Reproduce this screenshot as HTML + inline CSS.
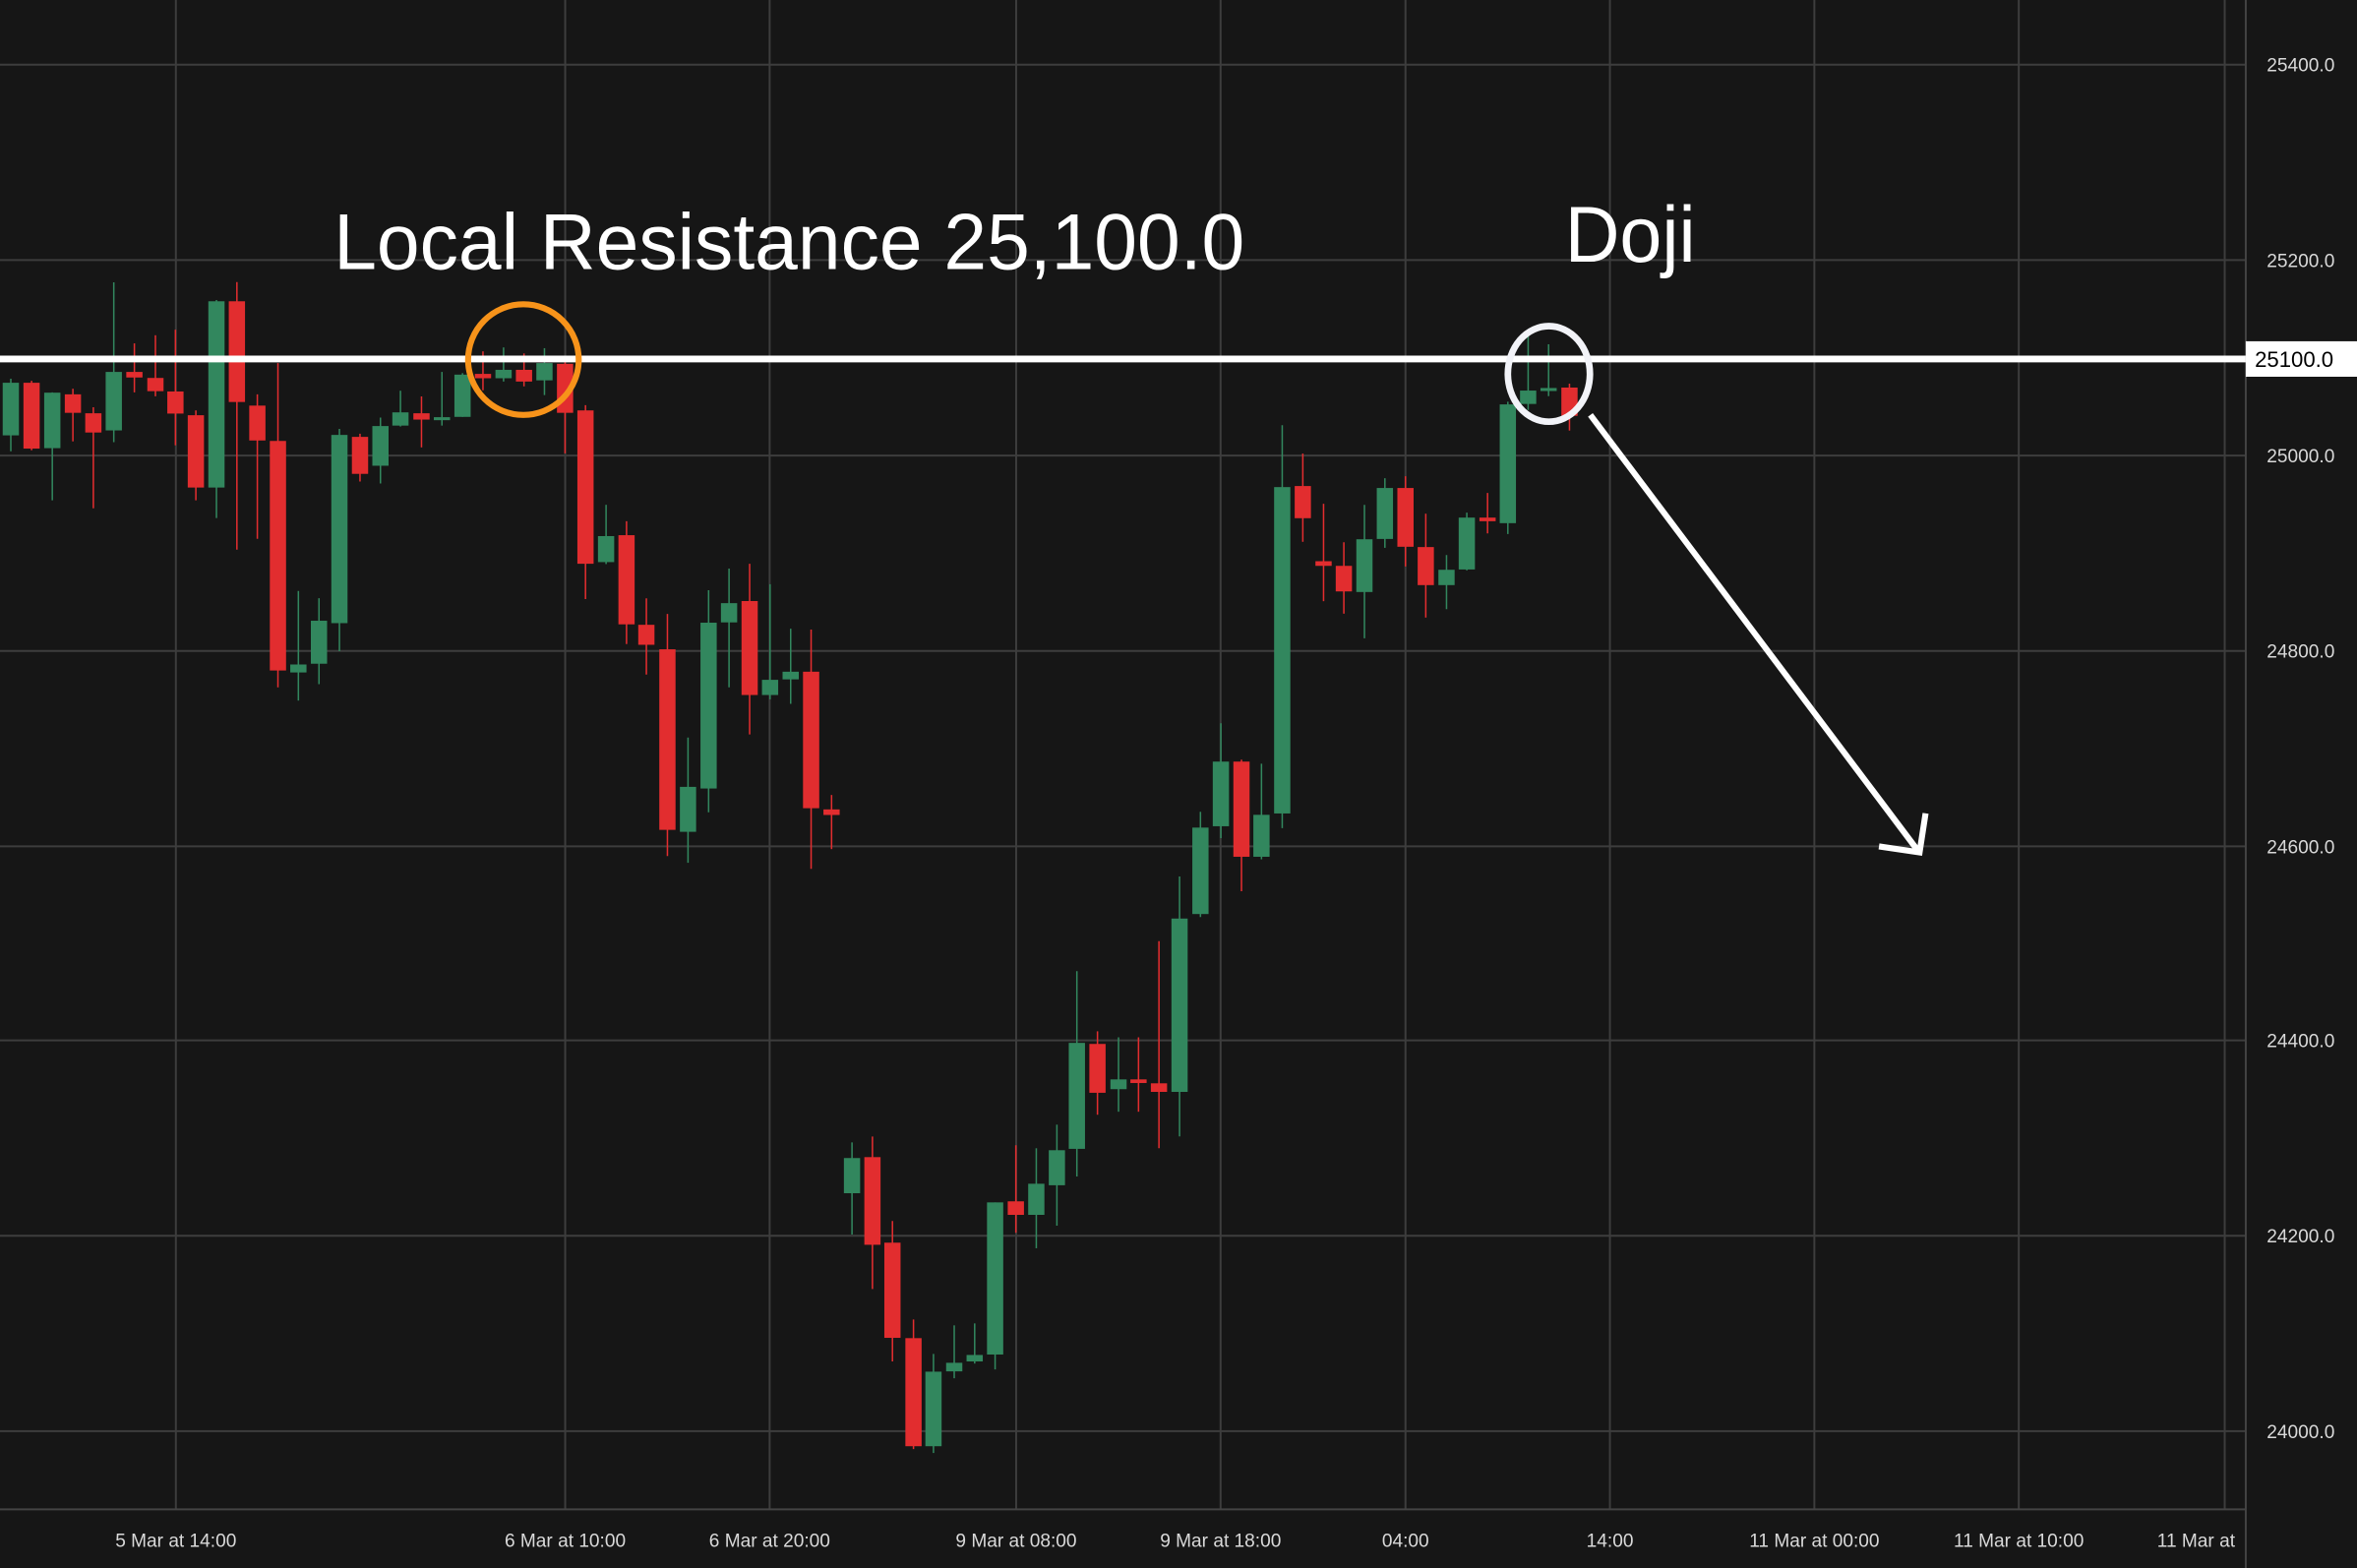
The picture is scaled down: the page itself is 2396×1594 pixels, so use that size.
<!DOCTYPE html>
<html><head><meta charset="utf-8"><style>
html,body{margin:0;padding:0;background:#161616;overflow:hidden}
svg{display:block}
text{font-family:"Liberation Sans",sans-serif}
</style></head><body>
<svg width="2396" height="1594" viewBox="0 0 1568 1043" preserveAspectRatio="none" xmlns="http://www.w3.org/2000/svg">
<rect width="1568" height="1043" fill="#161616"/>
<g stroke="#3d3d3d" stroke-width="1.3">
<line x1="0" y1="43" x2="1494" y2="43"/><line x1="0" y1="173" x2="1494" y2="173"/><line x1="0" y1="303" x2="1494" y2="303"/><line x1="0" y1="433" x2="1494" y2="433"/><line x1="0" y1="563" x2="1494" y2="563"/><line x1="0" y1="692" x2="1494" y2="692"/><line x1="0" y1="822" x2="1494" y2="822"/><line x1="0" y1="952" x2="1494" y2="952"/>
<line x1="117" y1="0" x2="117" y2="1004"/><line x1="376" y1="0" x2="376" y2="1004"/><line x1="512" y1="0" x2="512" y2="1004"/><line x1="676" y1="0" x2="676" y2="1004"/><line x1="812" y1="0" x2="812" y2="1004"/><line x1="935" y1="0" x2="935" y2="1004"/><line x1="1071" y1="0" x2="1071" y2="1004"/><line x1="1207" y1="0" x2="1207" y2="1004"/><line x1="1343" y1="0" x2="1343" y2="1004"/><line x1="1480" y1="0" x2="1480" y2="1004"/>
</g>
<g stroke="#444" stroke-width="1.3"><line x1="0" y1="1004" x2="1494" y2="1004"/><line x1="1494" y1="0" x2="1494" y2="1043"/></g>
<g id="green" fill="#32875e" stroke="#32875e" stroke-width="1">
<line x1="7.2" y1="251.9" x2="7.2" y2="300.2"/><rect x="1.8" y="254.6" width="10.8" height="35" stroke="none"/>
<line x1="34.8" y1="261" x2="34.8" y2="332.8"/><rect x="29.4" y="261.2" width="10.8" height="36.9" stroke="none"/>
<line x1="75.7" y1="187.8" x2="75.7" y2="294.1"/><rect x="70.3" y="247.4" width="10.8" height="38.9" stroke="none"/>
<line x1="144" y1="199.6" x2="144" y2="344.6"/><rect x="138.6" y="200.4" width="10.8" height="123.9" stroke="none"/>
<line x1="198.5" y1="393.1" x2="198.5" y2="466"/><rect x="193.1" y="442" width="10.8" height="5.3" stroke="none"/>
<line x1="212.2" y1="397.9" x2="212.2" y2="455.1"/><rect x="206.8" y="412.9" width="10.8" height="28.6" stroke="none"/>
<line x1="225.8" y1="285.3" x2="225.8" y2="433.2"/><rect x="220.4" y="289.3" width="10.8" height="125.2" stroke="none"/>
<line x1="253.1" y1="277.8" x2="253.1" y2="321.6"/><rect x="247.7" y="283.4" width="10.8" height="26.4" stroke="none"/>
<line x1="266.4" y1="259.9" x2="266.4" y2="283.7"/><rect x="261" y="274.3" width="10.8" height="8.8" stroke="none"/>
<line x1="294" y1="247.4" x2="294" y2="283.1"/><rect x="288.6" y="277.5" width="10.8" height="2" stroke="none"/>
<line x1="307.7" y1="248.2" x2="307.7" y2="277.3"/><rect x="302.3" y="249.2" width="10.8" height="28.1" stroke="none"/>
<line x1="335" y1="231.1" x2="335" y2="253.8"/><rect x="329.6" y="246" width="10.8" height="5.6" stroke="none"/>
<line x1="362.2" y1="231.6" x2="362.2" y2="262.8"/><rect x="356.8" y="241.5" width="10.8" height="11.5" stroke="none"/>
<line x1="403.2" y1="335.8" x2="403.2" y2="375.2"/><rect x="397.8" y="356.6" width="10.8" height="17.3" stroke="none"/>
<line x1="457.7" y1="490.6" x2="457.7" y2="573.9"/><rect x="452.3" y="523.4" width="10.8" height="29.9" stroke="none"/>
<line x1="471.4" y1="392.6" x2="471.4" y2="540.3"/><rect x="466" y="414.2" width="10.8" height="110.3" stroke="none"/>
<line x1="485" y1="378.2" x2="485" y2="457.2"/><rect x="479.6" y="401.2" width="10.8" height="12.8" stroke="none"/>
<line x1="512.3" y1="388.6" x2="512.3" y2="465.2"/><rect x="506.9" y="452.2" width="10.8" height="10.1" stroke="none"/>
<line x1="526" y1="418.2" x2="526" y2="468.2"/><rect x="520.6" y="446.8" width="10.8" height="5.1" stroke="none"/>
<line x1="566.8" y1="759.9" x2="566.8" y2="821.2"/><rect x="561.4" y="770.3" width="10.8" height="23.4" stroke="none"/>
<line x1="621" y1="900.6" x2="621" y2="966.5"/><rect x="615.6" y="912.4" width="10.8" height="49.6" stroke="none"/>
<line x1="634.8" y1="881.6" x2="634.8" y2="916.8"/><rect x="629.4" y="906.5" width="10.8" height="5.7" stroke="none"/>
<line x1="648.4" y1="880.3" x2="648.4" y2="907"/><rect x="643" y="901.3" width="10.8" height="4.3" stroke="none"/>
<line x1="662" y1="799.8" x2="662" y2="910.9"/><rect x="656.6" y="799.8" width="10.8" height="101.2" stroke="none"/>
<line x1="689.4" y1="763.8" x2="689.4" y2="830.3"/><rect x="684" y="787.4" width="10.8" height="20.7" stroke="none"/>
<line x1="703.1" y1="748.1" x2="703.1" y2="815.3"/><rect x="697.7" y="765.1" width="10.8" height="23.3" stroke="none"/>
<line x1="716.4" y1="646" x2="716.4" y2="782.6"/><rect x="711" y="693.7" width="10.8" height="70.5" stroke="none"/>
<line x1="744.1" y1="690" x2="744.1" y2="739.5"/><rect x="738.7" y="718" width="10.8" height="6.5" stroke="none"/>
<line x1="784.7" y1="583" x2="784.7" y2="755.9"/><rect x="779.3" y="611" width="10.8" height="115.3" stroke="none"/>
<line x1="798.6" y1="540" x2="798.6" y2="610"/><rect x="793.2" y="550.5" width="10.8" height="57.5" stroke="none"/>
<line x1="812.2" y1="481.1" x2="812.2" y2="557.5"/><rect x="806.8" y="506.6" width="10.8" height="43" stroke="none"/>
<line x1="839.2" y1="508" x2="839.2" y2="571.6"/><rect x="833.8" y="542" width="10.8" height="27.9" stroke="none"/>
<line x1="853" y1="282.8" x2="853" y2="550.9"/><rect x="847.6" y="324" width="10.8" height="217.1" stroke="none"/>
<line x1="907.7" y1="335.8" x2="907.7" y2="424.6"/><rect x="902.3" y="358.7" width="10.8" height="35.1" stroke="none"/>
<line x1="921.3" y1="318.1" x2="921.3" y2="364.4"/><rect x="915.9" y="324.6" width="10.8" height="33.9" stroke="none"/>
<line x1="962.3" y1="369.2" x2="962.3" y2="405.2"/><rect x="956.9" y="379" width="10.8" height="10.2" stroke="none"/>
<line x1="975.8" y1="341" x2="975.8" y2="379.4"/><rect x="970.4" y="344.3" width="10.8" height="34.5" stroke="none"/>
<line x1="1003.1" y1="267.2" x2="1003.1" y2="355.2"/><rect x="997.7" y="269" width="10.8" height="79" stroke="none"/>
<line x1="1016.6" y1="223.6" x2="1016.6" y2="272.7"/><rect x="1011.2" y="259.8" width="10.8" height="8.9" stroke="none"/>
<line x1="1030.2" y1="229" x2="1030.2" y2="263.5"/><rect x="1024.8" y="258.1" width="10.8" height="2" stroke="none"/>
</g>
<g fill="#e22d2f" stroke="#e22d2f" stroke-width="1">
<line x1="21" y1="253.3" x2="21" y2="299.5"/><rect x="15.6" y="254.6" width="10.8" height="43.8" stroke="none"/>
<line x1="48.5" y1="258.6" x2="48.5" y2="293.6"/><rect x="43.1" y="262.3" width="10.8" height="12.3" stroke="none"/>
<line x1="62.1" y1="270.9" x2="62.1" y2="338.1"/><rect x="56.7" y="274.9" width="10.8" height="12.8" stroke="none"/>
<line x1="89.4" y1="228.4" x2="89.4" y2="261"/><rect x="84" y="247.4" width="10.8" height="3.7" stroke="none"/>
<line x1="103.4" y1="223" x2="103.4" y2="263.6"/><rect x="98" y="251.4" width="10.8" height="8.8" stroke="none"/>
<line x1="116.7" y1="219.3" x2="116.7" y2="296.2"/><rect x="111.3" y="260.4" width="10.8" height="14.7" stroke="none"/>
<line x1="130.3" y1="273" x2="130.3" y2="332.8"/><rect x="124.9" y="276.2" width="10.8" height="48.1" stroke="none"/>
<line x1="157.6" y1="187.6" x2="157.6" y2="365.6"/><rect x="152.2" y="200.4" width="10.8" height="67" stroke="none"/>
<line x1="171.2" y1="262.3" x2="171.2" y2="358.4"/><rect x="165.8" y="269.8" width="10.8" height="23.2" stroke="none"/>
<line x1="184.9" y1="241.5" x2="184.9" y2="457.2"/><rect x="179.5" y="293.3" width="10.8" height="152.7" stroke="none"/>
<line x1="239.5" y1="288.5" x2="239.5" y2="320.3"/><rect x="234.1" y="290.6" width="10.8" height="24.6" stroke="none"/>
<line x1="280.4" y1="263.7" x2="280.4" y2="297.6"/><rect x="275" y="274.9" width="10.8" height="4.2" stroke="none"/>
<line x1="321.3" y1="233.7" x2="321.3" y2="259.6"/><rect x="315.9" y="248.7" width="10.8" height="2.9" stroke="none"/>
<line x1="348.6" y1="235.1" x2="348.6" y2="257"/><rect x="343.2" y="246" width="10.8" height="7.8" stroke="none"/>
<line x1="375.9" y1="240" x2="375.9" y2="301.6"/><rect x="370.5" y="242" width="10.8" height="32.6" stroke="none"/>
<line x1="389.5" y1="269.5" x2="389.5" y2="398.5"/><rect x="384.1" y="273" width="10.8" height="102" stroke="none"/>
<line x1="416.8" y1="346.7" x2="416.8" y2="428.4"/><rect x="411.4" y="356" width="10.8" height="59.3" stroke="none"/>
<line x1="430" y1="398" x2="430" y2="448.7"/><rect x="424.6" y="415.6" width="10.8" height="13.3" stroke="none"/>
<line x1="444" y1="408.4" x2="444" y2="569.4"/><rect x="438.6" y="431.9" width="10.8" height="120.1" stroke="none"/>
<line x1="498.7" y1="375" x2="498.7" y2="488.5"/><rect x="493.3" y="399.8" width="10.8" height="62.5" stroke="none"/>
<line x1="539.6" y1="418.8" x2="539.6" y2="577.9"/><rect x="534.2" y="446.8" width="10.8" height="90.8" stroke="none"/>
<line x1="553.2" y1="528.8" x2="553.2" y2="564.8"/><rect x="547.8" y="538.4" width="10.8" height="3.7" stroke="none"/>
<line x1="580.4" y1="756" x2="580.4" y2="857.4"/><rect x="575" y="769.7" width="10.8" height="58.3" stroke="none"/>
<line x1="593.7" y1="812.2" x2="593.7" y2="905.6"/><rect x="588.3" y="826.6" width="10.8" height="63.3" stroke="none"/>
<line x1="607.7" y1="877.7" x2="607.7" y2="963.9"/><rect x="602.3" y="890.1" width="10.8" height="71.9" stroke="none"/>
<line x1="675.8" y1="761.8" x2="675.8" y2="820"/><rect x="670.4" y="799.1" width="10.8" height="9" stroke="none"/>
<line x1="730.1" y1="686" x2="730.1" y2="741.5"/><rect x="724.7" y="694.4" width="10.8" height="32.5" stroke="none"/>
<line x1="757.4" y1="690" x2="757.4" y2="739.5"/><rect x="752" y="718" width="10.8" height="2.4" stroke="none"/>
<line x1="771" y1="626" x2="771" y2="763.8"/><rect x="765.6" y="720.6" width="10.8" height="5.7" stroke="none"/>
<line x1="825.9" y1="505.3" x2="825.9" y2="592.8"/><rect x="820.5" y="506.6" width="10.8" height="63.3" stroke="none"/>
<line x1="866.7" y1="301.7" x2="866.7" y2="360.4"/><rect x="861.3" y="323.3" width="10.8" height="21.4" stroke="none"/>
<line x1="880.5" y1="335.1" x2="880.5" y2="399.9"/><rect x="875.1" y="373.3" width="10.8" height="3.1" stroke="none"/>
<line x1="894" y1="360.7" x2="894" y2="408.2"/><rect x="888.6" y="376.4" width="10.8" height="17" stroke="none"/>
<line x1="935" y1="316.8" x2="935" y2="376.8"/><rect x="929.6" y="324.6" width="10.8" height="39.1" stroke="none"/>
<line x1="948.5" y1="341.7" x2="948.5" y2="410.8"/><rect x="943.1" y="363.9" width="10.8" height="25.3" stroke="none"/>
<line x1="989.6" y1="327.9" x2="989.6" y2="354.8"/><rect x="984.2" y="344.3" width="10.8" height="2.4" stroke="none"/>
<line x1="1044.1" y1="255.2" x2="1044.1" y2="286.4"/><rect x="1038.7" y="257.8" width="10.8" height="18.8" stroke="none"/>
</g>
<line x1="0" y1="238.8" x2="1494" y2="238.8" stroke="#ffffff" stroke-width="4.5"/>
<circle cx="348.2" cy="239.2" r="36.8" fill="none" stroke="#f7931a" stroke-width="4"/>
<ellipse cx="1030.4" cy="248.7" rx="27.3" ry="31.8" fill="none" stroke="#f2f3f8" stroke-width="4.4"/>
<g stroke="#ffffff" stroke-width="4" fill="none" stroke-linecap="butt">
<line x1="1058" y1="276" x2="1276" y2="566"/>
<polyline points="1250,563 1277,567 1281,541"/>
</g>
<text x="222" y="179" font-size="53" fill="#ffffff" textLength="606" lengthAdjust="spacingAndGlyphs">Local Resistance 25,100.0</text>
<text x="1041" y="174" font-size="53" fill="#ffffff" textLength="87" lengthAdjust="spacingAndGlyphs">Doji</text>
<g font-size="12.5" fill="#d9d9d9">
<text x="1508" y="47.5">25400.0</text>
<text x="1508" y="177.5">25200.0</text>
<text x="1508" y="307.5">25000.0</text>
<text x="1508" y="437.5">24800.0</text>
<text x="1508" y="567.5">24600.0</text>
<text x="1508" y="696.5">24400.0</text>
<text x="1508" y="826.5">24200.0</text>
<text x="1508" y="956.5">24000.0</text>
</g>
<rect x="1494" y="227" width="74" height="23.6" fill="#ffffff"/>
<text x="1500" y="244" font-size="14.5" fill="#000000">25100.0</text>
<g font-size="12.5" fill="#d9d9d9" text-anchor="middle">
<text x="117" y="1029">5 Mar at 14:00</text>
<text x="376" y="1029">6 Mar at 10:00</text>
<text x="512" y="1029">6 Mar at 20:00</text>
<text x="676" y="1029">9 Mar at 08:00</text>
<text x="812" y="1029">9 Mar at 18:00</text>
<text x="935" y="1029">04:00</text>
<text x="1071" y="1029">14:00</text>
<text x="1207" y="1029">11 Mar at 00:00</text>
<text x="1343" y="1029">11 Mar at 10:00</text>
</g>
<text x="1435" y="1029" font-size="12.5" fill="#d9d9d9">11 Mar at</text>
</svg>
</body></html>
